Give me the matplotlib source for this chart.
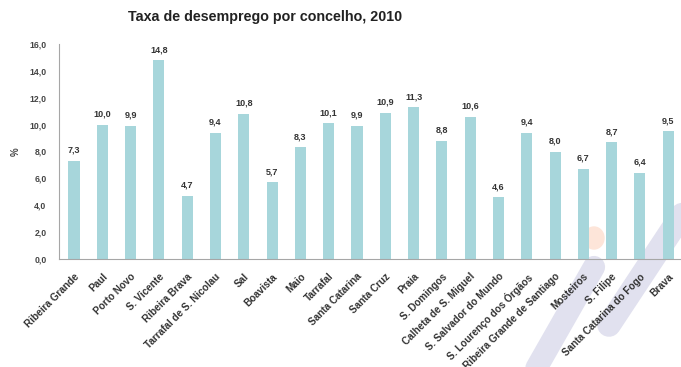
import matplotlib.pyplot as plt
from matplotlib.lines import Line2D
from matplotlib.patches import Ellipse

plt.rcParams['font.family'] = ['Liberation Sans', 'DejaVu Sans']

concelhos = ['Ribeira Grande', 'Paul', 'Porto Novo', 'S. Vicente', 'Ribeira Brava',
             'Tarrafal de S. Nicolau', 'Sal', 'Boavista', 'Maio', 'Tarrafal',
             'Santa Catarina', 'Santa Cruz', 'Praia', 'S. Domingos',
             'Calheta de S. Miguel', 'S. Salvador do Mundo', 'S. Lourenço dos Órgãos',
             'Ribeira Grande de Santiago', 'Mosteiros', 'S. Filipe',
             'Santa Catarina do Fogo', 'Brava']
taxa = [7.3, 10.0, 9.9, 14.8, 4.7, 9.4, 10.8, 5.7, 8.3, 10.1, 9.9,
        10.9, 11.3, 8.8, 10.6, 4.6, 9.4, 8.0, 6.7, 8.7, 6.4, 9.5]
yticks = [0, 2, 4, 6, 8, 10, 12, 14, 16]

W, H = 681, 367
fig = plt.figure(figsize=(W / 100, H / 100), dpi=100)


def px(x, y):
    # pixel position (from top-left) -> figure fraction
    return x / W, 1 - y / H


# faint logo marks in the background
for (x0, y0), (x1, y1), lw in [((533, 374), (594, 267), 16),
                               ((609, 325), (695, 195), 17)]:
    a, b = px(x0, y0)
    c, d = px(x1, y1)
    fig.add_artist(Line2D([a, c], [b, d], transform=fig.transFigure,
                          color='#e1e1ef', lw=lw, solid_capstyle='round',
                          zorder=0))
cx, cy = px(594, 238)
fig.add_artist(Ellipse((cx, cy), 20 / W, 22 / H, transform=fig.transFigure,
                       color='#fde5d9', zorder=0))

ax = fig.add_axes([59 / W, 1 - 259 / H, 622 / W, 215 / H])
ax.patch.set_visible(False)
ax.set_zorder(1)

x = range(len(concelhos))
ax.bar(x, taxa, width=0.39, color='#a7d6db', zorder=2)
for xi, v in zip(x, taxa):
    ax.text(xi, v + 0.45, f'{v:.1f}'.replace('.', ','), ha='center', va='bottom',
            fontsize=6.5, fontweight='bold', color='#333333')

ax.set_xlim(-0.53, 21.45)
ax.set_ylim(0, 16)
ax.set_yticks(yticks)
ax.set_yticklabels([f'{t:.1f}'.replace('.', ',') for t in yticks],
                   fontsize=6.2, fontweight='bold', color='#444444')
ax.set_xticks(list(x))
ax.set_xticklabels(concelhos, rotation=45, ha='right', rotation_mode='anchor',
                   fontsize=7.2, fontweight='bold', color='#333333')
ax.tick_params(axis='y', length=0, pad=9)
ax.tick_params(axis='x', length=0, pad=9)

for s in ['top', 'right']:
    ax.spines[s].set_visible(False)
for s in ['left', 'bottom']:
    ax.spines[s].set_color('#a6a6a6')
    ax.spines[s].set_linewidth(0.8)

fig.text(16 / W, 1 - 152 / H, '%', rotation=90, ha='center', va='center',
         fontsize=7, fontweight='bold', color='#444444')
fig.text(265 / W, 1 - 17 / H, 'Taxa de desemprego por concelho, 2010',
         ha='center', va='center', fontsize=10.3, fontweight='bold', color='#222222')

fig.savefig('out.png', dpi=100)
